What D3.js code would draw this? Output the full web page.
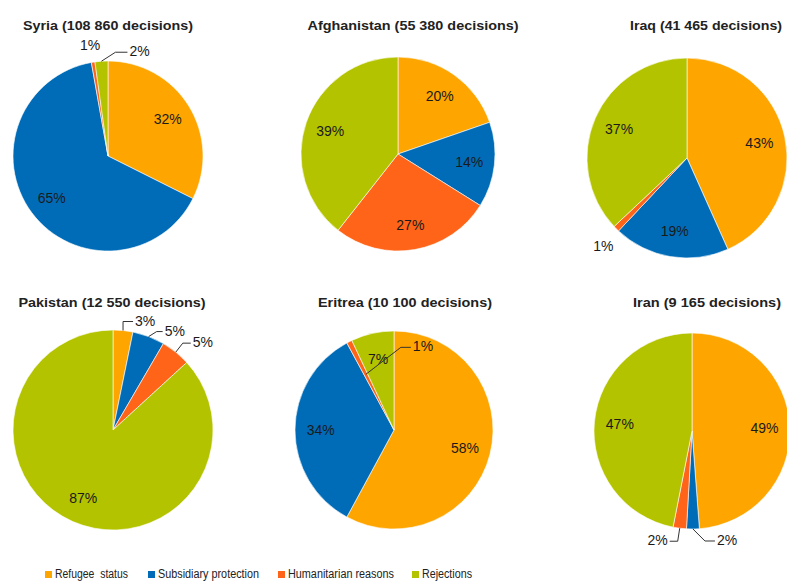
<!DOCTYPE html>
<html>
<head>
<meta charset="utf-8">
<script src="https://cdn.jsdelivr.net/npm/d3@7"></script>
<style>
body { margin: 0; background: #fff; }
text { font-family: "Liberation Sans", Arial, sans-serif; }
</style>
</head>
<body>
<div id="chart-area"></div>
<script>
const categories = ["Refugee  status", "Subsidiary protection", "Humanitarian reasons", "Rejections"];
const countries = ["Syria", "Afghanistan", "Iraq", "Pakistan", "Eritrea", "Iran"];
const decisions = [108860, 55380, 41465, 12550, 10100, 9165];
// shares in %, same order as categories
const syria = [32.4, 64.8, 0.6, 2.2];
const afghanistan = [19.7, 14.2, 26.7, 39.4];
const iraq = [43.3, 18.7, 1.0, 37.0];
const pakistan = [3.2, 5.2, 4.8, 86.8];
const eritrea = [57.9, 34.2, 0.9, 7.0];
const iran = [48.8, 2.1, 2.2, 46.9];
const shares = [syria, afghanistan, iraq, pakistan, eritrea, iran];
const colors = ["#ffa500", "#006cb8", "#ff6418", "#b4c300"];

const width = 787, height = 583;

// where each pie and its title sit
const pie_layout = [
    { cx: 108, cy: 156, r: 95, tx: 108, ty: 25, tw: 170 },
    { cx: 398, cy: 154, r: 97, tx: 413, ty: 25, tw: 211 },
    { cx: 687, cy: 158, r: 100, tx: 706, ty: 25, tw: 152 },
    { cx: 113, cy: 430, r: 100, tx: 112, ty: 302, tw: 187 },
    { cx: 394, cy: 430, r: 99, tx: 405, ty: 302, tw: 174 },
    { cx: 692, cy: 431, r: 98, tx: 707, ty: 302, tw: 148 }
];

// labels placed outside the slice (k = radius factor of anchor point)
const outside = {
    0: [{ i: 2, k: 1, ex: -3, ey: -17 }, { i: 3, k: 1, ex: 14, ey: -9, hx: 12 }],
    2: [{ i: 2, k: 1, ex: -13, ey: 17 }],
    3: [{ i: 0, k: 1, ex: 0, ey: -9, hx: 10 }, { i: 1, k: 1, ex: 8, ey: -5, hx: 6 }, { i: 2, k: 1, ex: 7, ey: -9, hx: 8 }],
    4: [{ i: 2, k: 0.63, ex: 35, ey: -27, hx: 10 }],
    5: [{ i: 1, k: 1, ex: 12, ey: 12, hx: 10 }, { i: 2, k: 1, ex: -2, ey: 13, hx: -8 }]
};

const legend_layout = [
    { x: 45, w: 73 },
    { x: 148, w: 101 },
    { x: 278, w: 106 },
    { x: 412, w: 50 }
];

const fmt = d3.formatLocale({ decimal: ".", thousands: " ", grouping: [3], currency: ["", ""] }).format(",d");

const svg = d3.select("#chart-area")
    .append("svg")
    .attr("width", width)
    .attr("height", height);

const color = d3.scaleOrdinal()
    .domain(categories)
    .range(colors);

const pie = d3.pie()
    .sort(null)
    .value(d => d);

function polar(a, rho) {
    return [Math.sin(a) * rho, -Math.cos(a) * rho];
}

shares.forEach((values, n) => {
    const L = pie_layout[n];
    const pieData = pie(values);

    svg.append("text")
        .attr("x", L.tx)
        .attr("y", L.ty)
        .attr("text-anchor", "middle")
        .attr("dominant-baseline", "central")
        .attr("font-weight", "bold")
        .attr("font-size", "13.5px")
        .attr("fill", "#222")
        .attr("textLength", L.tw)
        .attr("lengthAdjust", "spacingAndGlyphs")
        .text(countries[n] + " (" + fmt(decisions[n]) + " decisions)");

    const g = svg.append("g")
        .attr("transform", "translate(" + L.cx + "," + L.cy + ")");

    const arc = d3.arc()
        .innerRadius(0)
        .outerRadius(L.r);

    g.selectAll("path")
        .data(pieData)
        .join("path")
        .attr("d", arc)
        .attr("fill", (d, i) => color(categories[i]))
        .attr("stroke", "#fff")
        .attr("stroke-width", 0.6);

    const outs = outside[n] || [];
    const outIdx = outs.map(o => o.i);

    // labels inside the slices
    g.selectAll("text.inside")
        .data(pieData.filter((d, i) => outIdx.indexOf(i) < 0))
        .join("text")
        .attr("class", "inside")
        .attr("x", d => polar((d.startAngle + d.endAngle) / 2, L.r * 0.74)[0])
        .attr("y", d => polar((d.startAngle + d.endAngle) / 2, L.r * 0.74)[1])
        .attr("text-anchor", "middle")
        .attr("dominant-baseline", "central")
        .attr("font-size", "14px")
        .attr("fill", "#1a1a1a")
        .text(d => Math.round(d.data) + "%");

    // labels outside, some with leader lines
    outs.forEach(o => {
        const d = pieData[o.i];
        const p = polar((d.startAngle + d.endAngle) / 2, L.r * o.k);
        const e = [p[0] + o.ex, p[1] + o.ey];
        const label = g.append("text")
            .attr("dominant-baseline", "central")
            .attr("font-size", "14px")
            .attr("fill", "#1a1a1a")
            .text(Math.round(d.data) + "%");
        if (o.hx) {
            const t = [e[0] + o.hx, e[1]];
            g.append("path")
                .attr("d", d3.line()([p, e, t]))
                .attr("fill", "none")
                .attr("stroke", "#333")
                .attr("stroke-width", 1);
            label.attr("x", t[0] + (o.hx > 0 ? 2 : -2))
                .attr("y", t[1] - 1)
                .attr("text-anchor", o.hx > 0 ? "start" : "end");
        } else {
            label.attr("x", e[0])
                .attr("y", e[1])
                .attr("text-anchor", "middle");
        }
    });
});

// legend
const legend = svg.append("g")
    .attr("transform", "translate(0, 574)");

legend.selectAll("rect")
    .data(categories)
    .join("rect")
    .attr("x", (d, i) => legend_layout[i].x)
    .attr("y", -3)
    .attr("width", 7)
    .attr("height", 7)
    .attr("fill", d => color(d));

legend.selectAll("text")
    .data(categories)
    .join("text")
    .attr("x", (d, i) => legend_layout[i].x + 10)
    .attr("y", 0)
    .attr("dominant-baseline", "central")
    .attr("font-size", "12.5px")
    .attr("fill", "#222")
    .attr("xml:space", "preserve")
    .style("white-space", "pre")
    .attr("textLength", (d, i) => legend_layout[i].w)
    .attr("lengthAdjust", "spacingAndGlyphs")
    .text(d => d);
</script>
</body>
</html>
